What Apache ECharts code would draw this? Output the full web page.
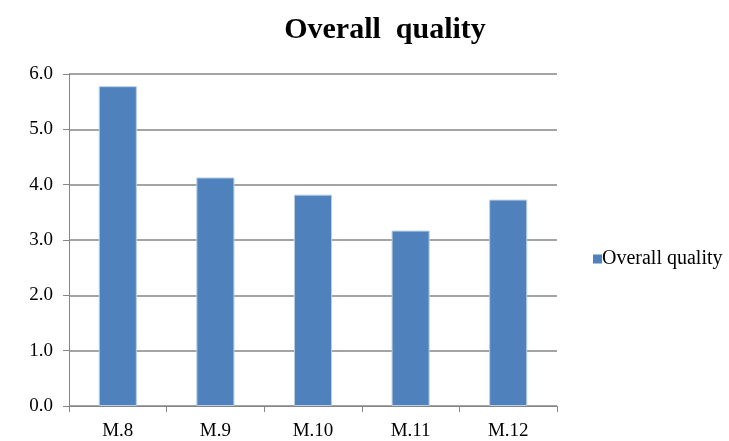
<!DOCTYPE html>
<html>
<head>
<meta charset="utf-8">
<script src="https://cdn.jsdelivr.net/npm/echarts@6/dist/echarts.min.js"></script>
<style>
  html, body { margin: 0; padding: 0; background: #fff; }
  #chart { width: 729px; height: 441px; }
</style>
</head>
<body>
<div id="chart"></div>
<script>
// Overall quality score per module
const categories = ['M.8', 'M.9', 'M.10', 'M.11', 'M.12'];
const overallQuality = [5.78, 4.13, 3.82, 3.17, 3.73];
const seriesName = 'Overall quality';

const serif = '"Liberation Serif", "Times New Roman", serif';
const chart = echarts.init(document.getElementById('chart'), null, { renderer: 'canvas' });

chart.setOption({
  animation: false,
  backgroundColor: '#ffffff',
  title: {
    text: 'Overall  quality',
    left: 380,
    top: 10,
    textAlign: 'center',
    textStyle: { fontFamily: serif, fontWeight: 'bold', fontSize: 30, color: '#000' }
  },
  legend: {
    orient: 'vertical',
    left: 588,
    top: 244,
    itemWidth: 9,
    itemHeight: 9,
    itemGap: 4,
    icon: 'rect',
    itemStyle: { borderWidth: 0 },
    textStyle: { fontFamily: serif, fontSize: 20, color: '#000', padding: [0, 0, 0, -5] },
    data: [seriesName]
  },
  grid: { left: 69, right: 172, top: 74, bottom: 35, containLabel: false },
  xAxis: {
    type: 'category',
    data: categories,
    axisLine: { lineStyle: { color: '#868686', width: 1 } },
    axisTick: { show: true, length: 6, alignWithLabel: false, lineStyle: { color: '#868686' } },
    axisLabel: { fontFamily: serif, fontSize: 19, color: '#000', margin: 16 }
  },
  yAxis: {
    type: 'value',
    min: 0,
    max: 6,
    interval: 1,
    axisLine: { show: true, lineStyle: { color: '#868686', width: 1 } },
    axisTick: { show: true, length: 6, lineStyle: { color: '#868686' } },
    axisLabel: {
      fontFamily: serif, fontSize: 19, color: '#000', margin: 16,
      formatter: v => v.toFixed(1)
    },
    splitLine: { lineStyle: { color: '#868686', width: 1.5 } }
  },
  series: [{
    name: seriesName,
    type: 'bar',
    data: overallQuality,
    barWidth: '39%',
    itemStyle: { color: '#4F81BD', borderColor: '#b9cde5', borderWidth: 1 }
  }]
});
</script>
</body>
</html>
